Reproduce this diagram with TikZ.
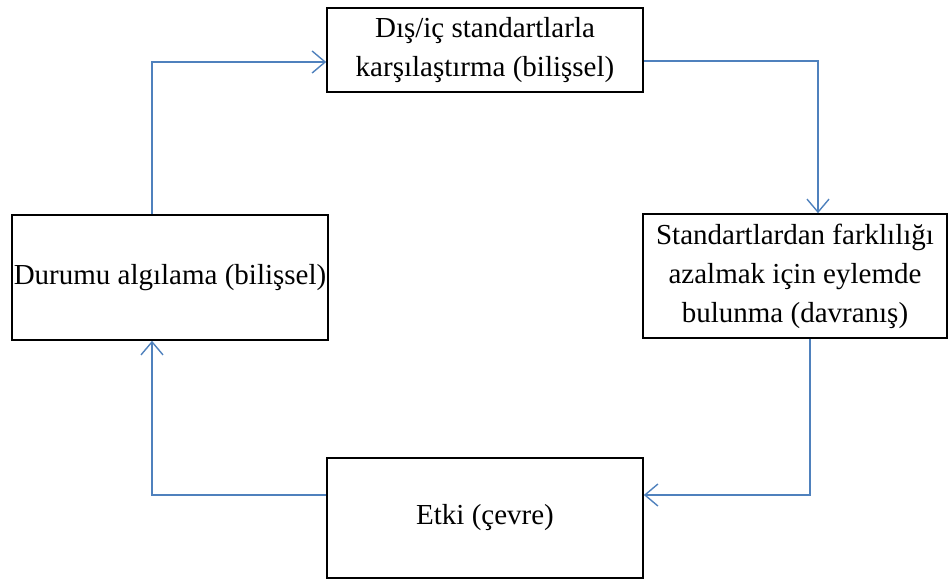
\documentclass[tikz,border=0pt]{standalone}
\usepackage{fontspec}
\setmainfont{Liberation Serif}
\usepackage{xcolor}
\usetikzlibrary{arrows.meta}
\definecolor{linkblue}{RGB}{79,129,189}

\begin{document}
\begin{tikzpicture}[x=1pt,y=-1pt,>={Straight Barb[length=13pt,width=22pt]},
box/.style={draw,line width=1.6pt,align=center,inner sep=0pt,font=\fontsize{29}{39}\selectfont},
link/.style={->,linkblue,line width=1.4pt}]
\useasboundingbox (0,0) rectangle (949,582);
\node[box,minimum width=316,minimum height=84](top) at (485,50){D\i\c{s}/i\c{c} standartlarla\\kar\c{s}\i la\c{s}t\i rma (bili\c{s}sel)};
\node[box,minimum width=304,minimum height=124](right) at (795,276){Standartlardan farkl\i l\i\u{g}\i\\azalmak i\c{c}in eylemde\\bulunma (davran\i\c{s})};
\node[box,minimum width=316,minimum height=125](left) at (170,277.5){Durumu alg\i lama (bili\c{s}sel)};
\node[box,minimum width=316,minimum height=120](bottom) at (485,518){Etki (\c{c}evre)};
\coordinate (c1) at (818,61);
\coordinate (c2) at (810,495);
\coordinate (c3) at (152,495);
\coordinate (c4) at (152,62);
\draw[link](c1 -| top.east)--(c1)--(c1 |- right.north);
\draw[link](c2 |- right.south)--(c2)--(c2 -| bottom.east);
\draw[link](c3 -| bottom.west)--(c3)--(c3 |- left.south);
\draw[link](c4 |- left.north)--(c4)--(c4 -| top.west);
\end{tikzpicture}
\end{document}
